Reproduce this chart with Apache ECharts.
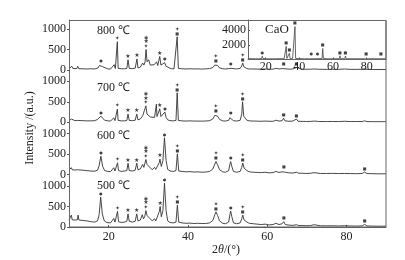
<!DOCTYPE html>
<html><head><meta charset="utf-8">
<script src="https://cdn.jsdelivr.net/npm/echarts@6/dist/echarts.min.js"></script>
<style>html,body{margin:0;padding:0;background:#fff}#c{width:405px;height:260px}</style>
</head><body><div id="c"></div>
<script>
// ---- data (2θ in degrees, intensity in a.u.) ----
const panelLabels = ['800 ℃', '700 ℃', '600 ℃', '500 ℃'];
const xTicks = [20, 40, 60, 80];
const yTicks = [0, 500, 1000];
const insetXTicks = [20, 40, 60, 80];
const insetYTicks = [2000, 4000];
const insetLabel = 'CaO';

const p800 = [[10,30],[10.4,35],[10.7,90],[11.0,35],[11.5,30],[12.0,35],[12.2,90],[12.5,30],[13.5,30],[14.5,25],[15.5,30],[16.5,25],[17.3,50],[17.7,110],[18.1,130],[18.5,80],[19.0,35],[19.8,25],[20.5,25],[21.0,40],[21.4,130],[21.7,35],[22.0,40],[22.2,690],[22.4,40],[23.2,30],[24.0,30],[24.6,40],[24.9,250],[25.2,40],[26.0,35],[26.7,45],[27.15,270],[27.4,50],[28.0,70],[28.6,170],[28.9,120],[29.2,200],[29.45,500],[29.7,200],[30.1,250],[30.5,120],[31.0,80],[31.5,130],[31.8,100],[32.1,200],[32.4,110],[32.9,330],[33.2,120],[33.7,110],[34.15,180],[34.5,90],[35.0,45],[35.8,30],[36.5,30],[37.0,40],[37.3,810],[37.6,40],[38.5,30],[39.5,25],[40.5,30],[41.5,25],[42.5,28],[43.5,22],[44.5,28],[45.5,35],[46.3,60],[46.8,120],[47.05,150],[47.5,110],[48.0,50],[48.8,30],[49.5,25],[50.3,35],[50.8,80],[51.1,40],[51.5,30],[52.3,25],[53.2,40],[53.6,100],[53.85,170],[54.1,80],[54.5,60],[54.9,35],[55.5,25],[56.5,25],[57.5,22],[58.5,20],[59.5,25],[60.5,20],[61.5,20],[62.2,40],[62.6,50],[63.0,25],[63.8,35],[64.15,80],[64.5,30],[65.5,20],[66.5,25],[67.4,60],[67.8,20],[69,18],[70,18],[71,20],[72,25],[73,18],[75,15],[76.5,18],[78,15],[79.5,25],[81,15],[82.5,15],[84,18],[84.6,30],[85.2,15],[86.5,12],[88,12],[90,12]];

const p700 = [[10,40],[10.4,45],[10.6,80],[10.8,45],[11.5,40],[12.1,45],[12.3,75],[12.5,40],[13.5,40],[14.5,35],[15.5,35],[16.5,40],[17.2,70],[17.6,110],[18.05,150],[18.5,100],[19.0,50],[19.8,35],[20.5,30],[21.0,45],[21.3,110],[21.6,40],[22.0,45],[22.2,320],[22.4,45],[23.2,35],[24.0,35],[24.6,45],[24.9,200],[25.2,45],[26.0,40],[26.7,50],[27.1,200],[27.4,60],[28.0,80],[28.6,160],[28.9,120],[29.1,180],[29.4,400],[29.7,200],[30.1,230],[30.5,130],[31.0,90],[31.6,120],[31.9,150],[32.05,440],[32.2,140],[32.5,150],[32.9,330],[33.2,140],[33.7,150],[34.2,250],[34.5,120],[34.9,60],[35.5,40],[36.3,35],[37.0,45],[37.3,720],[37.6,45],[38.5,35],[39.5,30],[40.5,35],[41.5,30],[42.5,30],[43.5,28],[44.5,32],[45.5,40],[46.3,80],[46.8,170],[47.05,200],[47.5,150],[48.0,70],[48.8,35],[49.5,30],[50.3,50],[50.6,110],[50.8,140],[51.1,90],[51.5,40],[52.3,30],[53.2,50],[53.6,200],[53.8,500],[54.1,150],[54.5,100],[54.9,50],[55.5,35],[56.5,30],[57.5,28],[58.5,25],[59.5,30],[60.5,25],[61.5,25],[62.2,50],[62.6,60],[63.0,30],[63.8,40],[64.15,100],[64.5,35],[65.5,25],[66.5,30],[67.4,80],[67.8,25],[69,22],[70,20],[71,22],[72,30],[73,20],[75,18],[76.5,20],[78,18],[79.5,25],[81,18],[82.5,18],[84,20],[84.6,35],[85.2,18],[86.5,15],[88,15],[90,15]];

const p600 = [[10,120],[10.4,125],[10.6,170],[10.8,120],[11.5,115],[12.1,120],[12.3,160],[12.5,115],[13.5,110],[14.5,100],[15.5,90],[16.5,85],[17.2,110],[17.6,220],[18.05,450],[18.5,200],[19.0,100],[19.8,80],[20.5,75],[21.0,100],[21.3,170],[21.6,90],[22.0,100],[22.25,290],[22.5,100],[23.2,80],[24.0,90],[24.6,100],[24.9,280],[25.2,100],[26.0,90],[26.7,110],[27.1,280],[27.4,120],[28.0,140],[28.6,250],[28.9,180],[29.1,220],[29.4,370],[29.7,250],[30.1,280],[30.5,170],[31.0,120],[31.6,180],[31.9,130],[32.4,160],[32.8,300],[32.95,380],[33.3,200],[33.7,350],[34.1,900],[34.5,350],[34.9,130],[35.5,90],[36.3,80],[37.0,100],[37.35,510],[37.7,90],[38.5,80],[39.5,70],[40.5,75],[41.5,65],[42.5,70],[43.5,60],[44.5,65],[45.5,80],[46.3,140],[46.8,260],[47.1,320],[47.5,240],[48.0,120],[48.8,70],[49.5,60],[50.3,100],[50.6,250],[50.8,320],[51.1,200],[51.5,80],[52.3,60],[53.2,80],[53.6,180],[53.85,285],[54.2,160],[54.5,150],[54.9,100],[55.5,70],[56.5,60],[57.5,55],[58.5,50],[59.5,60],[60.5,45],[61.5,50],[62.2,80],[62.6,100],[63.0,55],[63.8,70],[64.2,110],[64.6,60],[65.5,45],[66.5,40],[67.4,60],[68,35],[69,35],[70,30],[71,35],[71.8,50],[72.3,35],[73.5,30],[75,30],[76.5,32],[78,28],[79.5,30],[81,28],[82.5,25],[84,30],[84.6,65],[85.2,28],[86.5,25],[88,22],[90,22]];

const p500 = [[10,170],[10.4,180],[10.6,290],[10.8,175],[11.5,170],[12.1,175],[12.3,290],[12.5,170],[13.5,160],[14.5,150],[15.5,130],[16.5,120],[17.2,150],[17.6,300],[18.0,730],[18.4,320],[18.9,150],[19.5,110],[20.5,100],[21.0,130],[21.3,210],[21.6,120],[22.0,140],[22.25,380],[22.5,130],[23.2,110],[24.0,120],[24.6,140],[24.9,320],[25.2,140],[26.0,120],[26.7,140],[27.1,320],[27.4,150],[28.0,170],[28.5,300],[28.8,200],[29.1,250],[29.4,400],[29.7,280],[30.1,300],[30.5,200],[31.0,150],[31.6,200],[31.9,150],[32.4,180],[32.8,380],[33.0,500],[33.3,250],[33.7,400],[34.1,1070],[34.5,400],[34.9,150],[35.5,110],[36.3,100],[37.0,120],[37.35,530],[37.7,120],[38.5,100],[39.5,90],[40.5,95],[41.5,85],[42.5,90],[43.5,85],[44.5,85],[45.5,100],[46.3,160],[46.8,300],[47.1,370],[47.5,280],[48.0,150],[48.8,90],[49.5,80],[50.3,120],[50.6,300],[50.8,390],[51.1,250],[51.5,100],[52.3,80],[53.2,100],[53.6,200],[53.85,290],[54.2,170],[54.5,160],[54.9,120],[55.5,90],[56.5,80],[57.5,70],[58.5,60],[59.5,70],[60.5,50],[61.5,60],[62.2,90],[62.6,110],[63.0,60],[63.8,80],[64.2,130],[64.6,60],[65.5,45],[66.5,40],[67.4,55],[68,35],[69,35],[70,30],[71,35],[71.8,55],[72.3,35],[73.5,30],[75,28],[76.5,30],[78,25],[79.5,30],[81,25],[82.5,22],[84,28],[84.6,65],[85.2,25],[86.5,22],[88,20],[90,20]];

const pCaO = [[10,120],[12,110],[14,100],[16,100],[17.6,130],[18.0,450],[18.4,130],[20,100],[22,100],[24,100],[26,100],[28,110],[28.8,250],[29.2,110],[31,110],[31.8,140],[32.2,1800],[32.6,140],[33.7,140],[34.1,850],[34.5,130],[36,120],[37.0,150],[37.4,4500],[37.8,150],[40,110],[43,100],[46,100],[46.7,100],[47.1,300],[47.5,100],[50.4,110],[50.8,300],[51.2,100],[53.5,130],[53.9,1500],[54.3,130],[57,100],[60,100],[63.8,110],[64.15,500],[64.5,110],[67.0,110],[67.4,480],[67.8,110],[72,100],[79.3,100],[79.7,250],[80.1,100],[85,100],[88.2,100],[88.5,250],[88.8,100],[91.5,100]];

// phase markers: [2θ, symbol codes stacked top→bottom]  c=● s=★ d=✦ o=◉ q=■
const m800 = [[18.1,'c'],[22.2,'d'],[24.9,'s'],[27.15,'s'],[29.45,'osd'],[32.9,'s'],[34.15,'c'],[37.3,'dq'],[47.05,'dq'],[50.8,'c'],[53.85,'dq'],[64.15,'q'],[67.4,'q']];
const m700 = [[18.05,'c'],[22.2,'d'],[24.9,'s'],[27.1,'s'],[29.4,'osd'],[32.9,'s'],[34.2,'c'],[37.3,'dq'],[47.05,'dq'],[50.8,'c'],[53.8,'dq'],[64.15,'q'],[67.4,'q']];
const m600 = [[18.05,'c'],[22.25,'d'],[24.9,'s'],[27.1,'s'],[29.4,'osd'],[32.95,'s'],[34.1,'c'],[37.35,'dq'],[47.1,'dq'],[50.8,'c'],[53.85,'dq'],[64.2,'q'],[84.6,'q']];
const m500 = [[18.0,'c'],[22.25,'d'],[24.9,'s'],[27.1,'s'],[29.4,'osd'],[33.0,'s'],[34.1,'c'],[37.35,'dq'],[47.1,'dq'],[50.8,'c'],[53.85,'dq'],[64.2,'q'],[84.6,'q']];
const mCaO = [[18.0,'c'],[32.2,'q'],[34.1,'q'],[37.4,'q'],[47.1,'c'],[50.8,'c'],[53.9,'q'],[64.15,'q'],[67.4,'q'],[79.7,'q'],[88.5,'q']];

// ---- chart ----
const FONT = '"Liberation Serif", "Times New Roman", serif';
const MFONT = '"DejaVu Sans", sans-serif';
const panels = [p800, p700, p600, p500];
const markers = [m800, m700, m600, m500];
const gridTops = [20, 70, 122.3, 174.7];
const gridHeights = [50, 52.3, 52.4, 52.3];
const pxPerUnit = 0.041;
const plain = v => String(v);
const glyph = { c: '{c|●}', s: '{s|★}', d: '{d|✦}', o: '{o|◉}', q: '{q|■}' };

function peakAt(series, x) {
  let m = 0;
  for (const [a, v] of series) if (Math.abs(a - x) <= 0.35 && v > m) m = v;
  return m;
}
const markerLabel = {
  show: true, position: 'top', distance: 1,
  formatter: p => p.data[2].split('').map(k => glyph[k]).join('\n'),
  fontFamily: MFONT, fontSize: 5, lineHeight: 4.5, color: '#111',
  rich: {
    c: { fontFamily: MFONT, fontSize: 4, lineHeight: 4.5, color: '#111' },
    s: { fontFamily: MFONT, fontSize: 6, lineHeight: 4.5, color: '#111' },
    d: { fontFamily: MFONT, fontSize: 6, lineHeight: 4.5, color: '#111' },
    o: { fontFamily: MFONT, fontSize: 5, lineHeight: 4.5, color: '#111' },
    q: { fontFamily: MFONT, fontSize: 4, lineHeight: 4.5, color: '#111' }
  }
};

const grid = [], xAxis = [], yAxis = [], series = [];
panels.forEach((data, i) => {
  grid.push({ left: 69, top: gridTops[i], width: 317, height: gridHeights[i] });
  const isBottom = i === 3;
  xAxis.push({
    type: 'value', gridIndex: i, min: 10, max: 90, show: isBottom,
    axisLine: { show: isBottom, lineStyle: { color: '#555', width: 1 } },
    axisTick: { show: isBottom, inside: true, length: 2, customValues: xTicks, lineStyle: { color: '#555' } },
    axisLabel: { show: isBottom, customValues: xTicks, formatter: plain, margin: 4, fontFamily: FONT, fontSize: 12, color: '#222' },
    splitLine: { show: false }
  });
  yAxis.push({
    type: 'value', gridIndex: i, min: 0, max: Math.round(gridHeights[i] / pxPerUnit),
    axisLine: { show: true, lineStyle: { color: '#555', width: 1 } },
    axisTick: { show: true, length: 2, customValues: yTicks, lineStyle: { color: '#555' } },
    axisLabel: { customValues: yTicks, formatter: plain, margin: 3, fontFamily: FONT, fontSize: 12, color: '#222' },
    splitLine: { show: false }
  });
  series.push({
    type: 'line', xAxisIndex: i, yAxisIndex: i, data: data, showSymbol: false,
    lineStyle: { color: '#333', width: 0.9 }, silent: true, z: 2
  });
  series.push({
    type: 'scatter', xAxisIndex: i, yAxisIndex: i, symbolSize: 0, silent: true, z: 3,
    data: markers[i].map(([a, t]) => [a, peakAt(data, a), t]),
    label: markerLabel
  });
});

// inset
grid.push({ left: 248, top: 20, width: 138, height: 39.5 });
xAxis.push({
  type: 'value', gridIndex: 4, min: 9.5, max: 91.5,
  axisLine: { show: true, lineStyle: { color: '#555', width: 1 } },
  axisTick: { show: true, inside: true, length: 2, customValues: insetXTicks, lineStyle: { color: '#555' } },
  axisLabel: { customValues: insetXTicks, formatter: plain, margin: 1, fontFamily: FONT, fontSize: 12, color: '#222' },
  splitLine: { show: false }
});
yAxis.push({
  type: 'value', gridIndex: 4, min: 0, max: 5400,
  axisLine: { show: true, lineStyle: { color: '#555', width: 1 } },
  axisTick: { show: true, inside: true, length: 2, customValues: insetYTicks, lineStyle: { color: '#555' } },
  axisLabel: { customValues: insetYTicks, formatter: plain, margin: 2, fontFamily: FONT, fontSize: 12, color: '#222' },
  splitLine: { show: false }
});
series.push({
  type: 'line', xAxisIndex: 4, yAxisIndex: 4, data: pCaO, showSymbol: false,
  lineStyle: { color: '#555', width: 0.9 }, silent: true, z: 2
});
series.push({
  type: 'scatter', xAxisIndex: 4, yAxisIndex: 4, symbolSize: 0, silent: true, z: 3,
  data: mCaO.map(([a, t]) => [a, peakAt(pCaO, a), t]),
  label: markerLabel
});

const labelY = [31, 88, 136, 185.5];
const graphic = [
  { type: 'rect', shape: { x: 69.5, y: 20.5, width: 316.5, height: 206.5 }, style: { fill: 'none', stroke: '#666', lineWidth: 1 }, silent: true, z: 10 },
  { type: 'rect', shape: { x: 248.5, y: 20.5, width: 137.5, height: 39 }, style: { fill: 'none', stroke: '#666', lineWidth: 1 }, silent: true, z: 10 },
  { type: 'text', x: 277, y: 29.5, style: { text: insetLabel, font: '13px ' + FONT, fill: '#222', textAlign: 'center', textVerticalAlign: 'middle' }, z: 11 },
  { type: 'text', x: 30, y: 128, rotation: Math.PI / 2, style: { text: 'Intensity /(a.u.)', font: '12px ' + FONT, fill: '#222', textAlign: 'center', textVerticalAlign: 'middle' }, z: 11 },
  { type: 'text', x: 226, y: 250, style: { text: '2{i|θ}/(°)', font: '12px ' + FONT, fill: '#222', textAlign: 'center', textVerticalAlign: 'middle',
      rich: { i: { fontStyle: 'italic', fontFamily: FONT, fontSize: 12, fill: '#222' } } }, z: 11 }
];
panelLabels.forEach((t, i) => graphic.push({
  type: 'text', x: 97, y: labelY[i],
  style: { text: t, font: '12px ' + FONT, fill: '#222', textAlign: 'left', textVerticalAlign: 'middle' }, z: 11
}));

const chart = echarts.init(document.getElementById('c'), null, { renderer: 'canvas' });
chart.setOption({ animation: false, backgroundColor: '#fff', grid, xAxis, yAxis, series, graphic });
</script></body></html>
